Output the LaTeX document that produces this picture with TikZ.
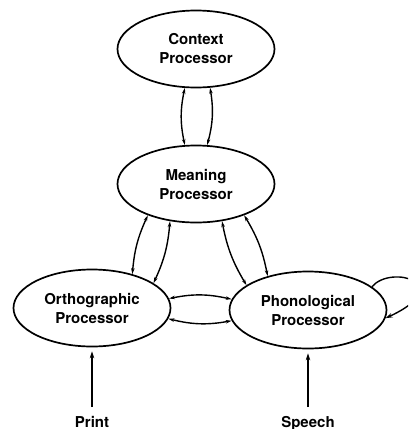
\documentclass[tikz,border=0pt]{standalone}
\usepackage{fontspec}
\setmainfont{TeX Gyre Heros}
\usetikzlibrary{shapes.geometric,arrows.meta}

\begin{document}
\begin{tikzpicture}[x=1pt,y=1pt,line width=1.4pt,
	proc/.style={draw,ellipse,line width=1.7pt,minimum width=157pt,minimum height=77pt,inner sep=0pt,align=center,font=\fontsize{15}{19}\selectfont\bfseries},
	src/.style={font=\fontsize{15}{19}\selectfont\bfseries,anchor=base,inner sep=2pt},
	link/.style={{Stealth[length=6pt,width=3.5pt]}-{Stealth[length=6pt,width=3.5pt]}},
	feed/.style={-{Stealth[length=7pt,width=4.5pt]}}]

	\useasboundingbox (0,0) rectangle (408,-429);
	\clip (0,0) rectangle (408,-429);

	% processors
	\node[proc] (context) at (196,-49)  {Context\\Processor};
	\node[proc] (meaning) at (196,-184) {Meaning\\Processor};
	\node[proc] (ortho)   at (92,-308)  {Orthographic\\Processor};
	\node[proc] (phono)   at (308,-310) {Phonological\\Processor};

	% inputs
	\node[src] (print)  at (92,-427)  {Print};
	\node[src] (speech) at (308,-427) {Speech};

	% context <-> meaning
	\draw[link] (context.254) to[bend right=12] (meaning.106);
	\draw[link] (context.290) to[bend left=12]  (meaning.74);

	% meaning <-> orthographic
	\draw[link] (meaning.213) to[bend right=10] (ortho.40);
	\draw[link] (meaning.235) to[bend left=10]  (ortho.22);

	% meaning <-> phonological
	\draw[link] (meaning.305) to[bend right=10] (phono.158);
	\draw[link] (meaning.327) to[bend left=10]  (phono.140);

	% orthographic <-> phonological
	\draw[link] (ortho.7)   to[bend left=12]  (phono.172);
	\draw[link] (ortho.352) to[bend right=12] (phono.188);

	% phonological self loop
	\draw[feed] (phono.20) .. controls +(50:30) and +(25:80) .. (phono.-6);

	% print and speech
	\draw[feed,shorten <=6pt,shorten >=4pt] (print.north)  -- (ortho.south);
	\draw[feed,shorten <=6pt,shorten >=4pt] (speech.north) -- (phono.south);

\end{tikzpicture}
\end{document}
